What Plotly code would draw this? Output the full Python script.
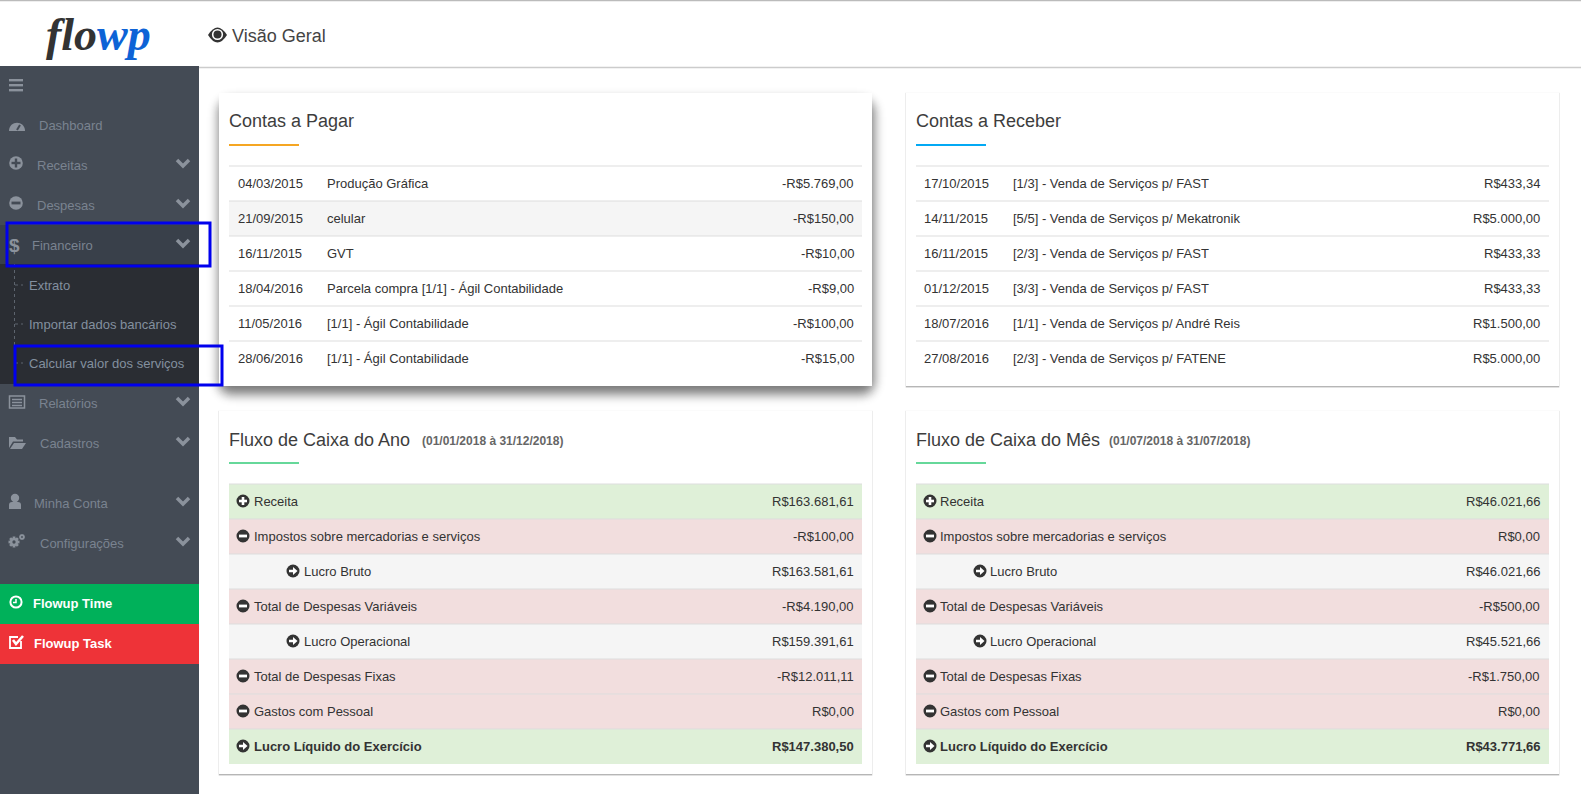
import math

import plotly.graph_objects as go

# Contas a pagar / receber
pagar_datas = ['04/03/2015', '21/09/2015', '16/11/2015', '18/04/2016', '11/05/2016', '28/06/2016']
pagar_desc = ['Produção Gráfica', 'celular', 'GVT', 'Parcela compra [1/1] - Ágil Contabilidade',
              '[1/1] - Ágil Contabilidade', '[1/1] - Ágil Contabilidade']
pagar_valores = ['-R$5.769,00', '-R$150,00', '-R$10,00', '-R$9,00', '-R$100,00', '-R$15,00']

receber_datas = ['17/10/2015', '14/11/2015', '16/11/2015', '01/12/2015', '18/07/2016', '27/08/2016']
receber_desc = ['[1/3] - Venda de Serviços p/ FAST', '[5/5] - Venda de Serviços p/ Mekatronik',
                '[2/3] - Venda de Serviços p/ FAST', '[3/3] - Venda de Serviços p/ FAST',
                '[1/1] - Venda de Serviços p/ André Reis', '[2/3] - Venda de Serviços p/ FATENE']
receber_valores = ['R$433,34', 'R$5.000,00', 'R$433,33', 'R$433,33', 'R$1.500,00', 'R$5.000,00']

# Fluxo de caixa
fluxo_linhas = ['Receita', 'Impostos sobre mercadorias e serviços', 'Lucro Bruto',
                'Total de Despesas Variáveis', 'Lucro Operacional', 'Total de Despesas Fixas',
                'Gastos com Pessoal', 'Lucro Líquido do Exercício']
fluxo_tipos = ['plus', 'minus', 'sub', 'minus', 'sub', 'minus', 'minus', 'total']
fluxo_ano = ['R$163.681,61', '-R$100,00', 'R$163.581,61', '-R$4.190,00', 'R$159.391,61',
             '-R$12.011,11', 'R$0,00', 'R$147.380,50']
fluxo_mes = ['R$46.021,66', 'R$0,00', 'R$46.021,66', '-R$500,00', 'R$45.521,66',
             '-R$1.750,00', 'R$0,00', 'R$43.771,66']

# Menu lateral
menu_nomes = ['Dashboard', 'Receitas', 'Despesas', 'Financeiro', 'Extrato', 'Importar dados bancários',
              'Calcular valor dos serviços', 'Relatórios', 'Cadastros', 'Minha Conta', 'Configurações']
menu_y = [125, 165, 205, 245, 285, 324, 363, 403, 443, 503, 543]
menu_x = [39, 37, 37, 32, 29, 29, 29, 39, 40, 34, 40]
menu_seta = [False, True, True, True, False, False, False, True, True, True, True]

FONTE = 'Liberation Sans'
TEXTO = '#333333'
TITULO = '#3d3d3d'
LINHA = '#dddddd'
FILL_TIPO = {'plus': '#dff0d8', 'minus': '#f2dede', 'sub': '#f5f5f5', 'total': '#dff0d8'}

shapes = []
annots = []


def rect(x0, y0, x1, y1, fill, line=None, lw=0):
    shapes.append(dict(type='rect', x0=x0, y0=y0, x1=x1, y1=y1, fillcolor=fill,
                       line=dict(color=line or fill, width=lw)))


def hline(x0, x1, y, cor=LINHA, lw=1):
    shapes.append(dict(type='line', x0=x0, x1=x1, y0=y, y1=y, line=dict(color=cor, width=lw)))


def circ(cx, cy, r, fill, line=None, lw=0):
    shapes.append(dict(type='circle', x0=cx - r, x1=cx + r, y0=cy - r, y1=cy + r, fillcolor=fill,
                       line=dict(color=line or fill, width=lw)))


def path(d, fill='rgba(0,0,0,0)', cor=None, lw=0):
    shapes.append(dict(type='path', path=d, fillcolor=fill, line=dict(color=cor or fill, width=lw)))


def arredondado(x0, y0, x1, y1, r, fill):
    path(f'M{x0 + r},{y0} L{x1 - r},{y0} Q{x1},{y0} {x1},{y0 + r} L{x1},{y1 - r} Q{x1},{y1} {x1 - r},{y1} '
         f'L{x0 + r},{y1} Q{x0},{y1} {x0},{y1 - r} L{x0},{y0 + r} Q{x0},{y0} {x0 + r},{y0} Z', fill=fill)


def txt(x, y, s, size=13, cor=TEXTO, anchor='left', fonte=FONTE):
    annots.append(dict(x=x, y=y, text=s, showarrow=False, xanchor=anchor, yanchor='middle',
                       borderpad=0, borderwidth=0, font=dict(family=fonte, size=size, color=cor)))


def icone_linha(cx, cy, tipo):
    circ(cx, cy, 6.5, '#333333')
    if tipo == 'plus':
        rect(cx - 4, cy - 1.3, cx + 4, cy + 1.3, 'white')
        rect(cx - 1.3, cy - 4, cx + 1.3, cy + 4, 'white')
    elif tipo == 'minus':
        rect(cx - 4, cy - 1.4, cx + 4, cy + 1.4, 'white')
    else:
        path(f'M{cx - 4},{cy - 1.2} L{cx},{cy - 1.2} L{cx},{cy - 4} L{cx + 4.5},{cy} '
             f'L{cx},{cy + 4} L{cx},{cy + 1.2} L{cx - 4},{cy + 1.2} Z', fill='white')


def seta(y):
    path(f'M177,{y - 3} L183,{y + 3} L189,{y - 3}', cor='#8b929c', lw=3.5)


def engrenagem(cx, cy, r, cor):
    for k in range(8):
        a = k * math.pi / 4
        shapes.append(dict(type='line', x0=cx, y0=cy, x1=cx + r * math.cos(a), y1=cy + r * math.sin(a),
                           line=dict(color=cor, width=r * 0.5)))
    circ(cx, cy, r * 0.75, cor)
    circ(cx, cy, r * 0.3, '#444b55')


def card(x0, y0, x1, y1):
    rect(x0 - 1, y0 - 0.5, x1 + 1, y1 + 1, 'rgba(0,0,0,0.035)')
    rect(x0 - 0.5, y0, x1 + 0.5, y1 + 2, 'rgba(0,0,0,0.07)')
    rect(x0, y1 - 1, x1, y1 + 1.2, 'rgba(0,0,0,0.2)')
    rect(x0, y0, x1, y1, 'white')


def tabela_contas(x0, x1, datas, desc, valores, zebra, dx=0):
    for i in range(len(datas)):
        y = 166 + 35 * i
        if zebra and i == 1:
            rect(x0, y, x1, y + 35, '#f5f5f5')
        hline(x0, x1, y)
        txt(x0 + 8.5 + dx, y + 17.5, datas[i])
        txt(x0 + 98 + dx, y + 17.5, desc[i])
        txt(x1 - 8.5 + dx, y + 17.5, valores[i], anchor='right')


def tabela_fluxo(x0, x1, valores, dx=0):
    for i, nome in enumerate(fluxo_linhas):
        y = 484 + 35 * i
        tipo = fluxo_tipos[i]
        rect(x0, y, x1, y + 35, FILL_TIPO[tipo])
        hline(x0, x1, y)
        cy = y + 17
        desloc = 50 if tipo == 'sub' else 0
        icone_linha(x0 + 14 + desloc, cy, tipo)
        negrito = tipo == 'total'
        txt(x0 + 25 + desloc + dx, y + 17.5, f'<b>{nome}</b>' if negrito else nome)
        txt(x1 - 8.5 + dx, y + 17.5, f'<b>{valores[i]}</b>' if negrito else valores[i], anchor='right')


# Topo
hline(0, 1581, 0.5, '#bbbbbb', 1.5)
hline(199, 1581, 67.5, '#cccccc', 1.5)
annots.append(dict(x=46, y=34, text='<b><i>flo<span style="color:#0d63d6">wp</span></i></b>', showarrow=False,
                   xanchor='left', yanchor='middle', borderpad=0, borderwidth=0,
                   font=dict(family='Liberation Serif', size=46, color='#333333')))
path('M208,35 Q217.5,20 227,35 Q217.5,50 208,35 Z', fill='#333333')
circ(217.5, 34.5, 5.6, 'white')
circ(217.5, 34.5, 4, '#333333')
txt(232, 36, 'Visão Geral', size=18, cor='#444444')

# Sidebar
rect(0, 66, 199, 794, '#444b55')
rect(0, 225, 199, 264, '#39404a')
rect(0, 264, 199, 384, '#2a2d33')
for y in [79, 84, 89]:
    rect(9, y, 23, y + 2.4, '#8b929c')
shapes.append(dict(type='line', x0=14.5, x1=14.5, y0=264, y1=352,
                   line=dict(color='#5d646e', width=1, dash='dot')))
for i, nome in enumerate(menu_nomes):
    sub = 4 <= i <= 6
    txt(menu_x[i], menu_y[i], nome, cor='#83909f' if sub else '#7a8390')
    if sub:
        shapes.append(dict(type='line', x0=15, x1=23, y0=menu_y[i], y1=menu_y[i],
                           line=dict(color='#5d646e', width=1, dash='dot')))
    if menu_seta[i]:
        seta(menu_y[i] - 2)

ic = '#8b929c'
# dashboard
path('M9,131 C9,120 25,120 25,131 Z', fill=ic)
shapes.append(dict(type='line', x0=17, y0=130, x1=20, y1=125, line=dict(color='#444b55', width=2)))
# receitas / despesas
circ(16, 163, 6.8, ic)
rect(11.5, 161.8, 20.5, 164.2, '#444b55')
rect(14.8, 158.5, 17.2, 167.5, '#444b55')
circ(16, 203, 6.8, ic)
rect(11.5, 201.6, 20.5, 204.4, '#444b55')
txt(9, 245, '<b>$</b>', size=19, cor=ic)
# relatorios
rect(9.5, 396, 24.5, 408, '#444b55', ic, 1.5)
for y in [399.5, 402.5, 405.5]:
    hline(12, 22, y, ic, 1.5)
# cadastros
path('M9,448 L9,437 L15,437 L17,439.5 L23,439.5 L23,441.5 L13,441.5 Z', fill=ic)
path('M10,449 L14,443 L26,443 L22,449 Z', fill=ic)
# minha conta
circ(15, 498, 4.2, ic)
path('M9,509 L9,505 Q9,502 12,502 L18,502 Q21,502 21,505 L21,509 Z', fill=ic)
# configuracoes
engrenagem(14, 542, 5.5, ic)
engrenagem(22, 537, 3, ic)

rect(0, 584, 199, 624, '#00b15a')
rect(0, 624, 199, 664, '#ee3338')
circ(16, 602, 5.6, 'rgba(0,0,0,0)', 'white', 2)
path('M16,599 L16,602.5 L13,602.5', cor='white', lw=1.5)
txt(33, 603, '<b>Flowup Time</b>', cor='white')
path('M21,641 L21,648 L10,648 L10,637 L18,637', cor='white', lw=1.8)
path('M13,640 L16,644 L23,636', cor='white', lw=2.6)
txt(34, 643, '<b>Flowup Task</b>', cor='white')

# Sombra do card destacado
for e in range(14, -15, -1):
    a = 0.05 * math.exp(-(e / 8) ** 2)
    arredondado(220 - e, 101 - e, 873 + e, 393 + e, e + 16, f'rgba(0,0,0,{a:.4f})')
rect(219, 93, 872, 386, 'white')

card(906, 93, 1559, 386)
card(219, 411, 872, 774)
card(906, 411, 1559, 774)

txt(229, 121, 'Contas a Pagar', size=18, cor=TITULO)
rect(229, 144, 299, 146, '#f5a623')
tabela_contas(229, 862, pagar_datas, pagar_desc, pagar_valores, True)

txt(916, 121, 'Contas a Receber', size=18, cor=TITULO)
rect(916, 144, 986, 146, '#03a9f4')
tabela_contas(916, 1549, receber_datas, receber_desc, receber_valores, False, dx=-0.7)

txt(229, 440, 'Fluxo de Caixa do Ano', size=18, cor=TITULO)
txt(422, 441, '<b>(01/01/2018 à 31/12/2018)</b>', size=12, cor='#666666')
rect(229, 462, 299, 464, '#66d89a')
tabela_fluxo(229, 862, fluxo_ano)

txt(916, 440, 'Fluxo de Caixa do Mês', size=18, cor=TITULO)
txt(1109, 441, '<b>(01/07/2018 à 31/07/2018)</b>', size=12, cor='#666666')
rect(916, 462, 986, 464, '#66d89a')
tabela_fluxo(916, 1549, fluxo_mes, dx=-0.7)

# Marcacoes azuis
rect(7, 223, 210, 266, 'rgba(0,0,0,0)', '#0000ee', 3)
rect(15, 346, 222, 385, 'rgba(0,0,0,0)', '#0000ee', 3)

fig = go.Figure()
fig.update_layout(width=1581, height=794, margin=dict(l=0, r=0, t=0, b=0), showlegend=False,
                  paper_bgcolor='white', plot_bgcolor='white', shapes=shapes, annotations=annots,
                  xaxis=dict(range=[0, 1581], visible=False, fixedrange=True),
                  yaxis=dict(range=[794, 0], visible=False, fixedrange=True))
fig.write_html('out.html', config={'displayModeBar': False},
               post_script="document.body.style.margin='0';document.documentElement.style.overflow='hidden';")
